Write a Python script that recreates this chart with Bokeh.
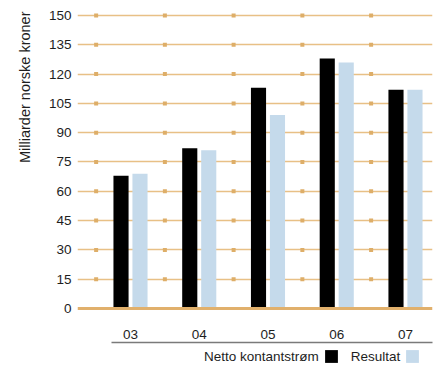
import numpy as np
from bokeh.plotting import figure
from bokeh.layouts import column
from bokeh.models import (Range1d, FixedTicker, Legend, LegendItem,
                          Span, Title)
from bokeh.embed import file_html
from bokeh.resources import INLINE

categories = ["03", "04", "05", "06", "07"]
netto = [68, 82, 113, 128, 112]
resultat = [69, 81, 99, 126, 112]
yticks = [0, 15, 30, 45, 60, 75, 90, 105, 120, 135, 150]
ylabel = "Milliarder norske kroner"
series_names = ["Netto kontantstrøm", "Resultat"]
colors = ["#000000", "#c5daeb"]

FONT = "Liberation Sans"
FS = "13.5px"
TXT = "#1e1e1e"
GRID = "#e8c086"
DOT = "#deae68"

xs = np.arange(len(categories))

p = figure(width=434, height=344, x_range=Range1d(-0.771, 4.393),
           y_range=Range1d(-17.41, 152.05), output_backend="svg",
           toolbar_location=None, min_border_left=77, min_border_right=2,
           min_border_top=11, min_border_bottom=2)
p.outline_line_color = None
p.xgrid.visible = False

# y axis
ya = p.yaxis[0]
ya.ticker = FixedTicker(ticks=yticks)
ya.axis_line_color = None
ya.major_tick_line_color = None
ya.minor_tick_line_color = None
ya.major_tick_out = 0
ya.major_tick_in = 0
ya.major_label_standoff = 6
ya.major_label_text_font = FONT
ya.major_label_text_font_size = FS
ya.major_label_text_color = TXT

p.ygrid.ticker = FixedTicker(ticks=yticks[1:])
p.ygrid.grid_line_color = GRID
p.ygrid.grid_line_width = 1.5

# category axis: line at the bottom, labels above the line
xa = p.xaxis[0]
xa.ticker = FixedTicker(ticks=list(xs))
xa.major_label_overrides = {int(i): c for i, c in zip(xs, categories)}
xa.bounds = (-0.276, 4.393)
xa.axis_line_color = "#7a7a7a"
xa.axis_line_width = 1.5
xa.major_tick_line_color = None
xa.minor_tick_line_color = None
xa.major_tick_out = 0
xa.major_tick_in = 0
xa.major_label_standoff = -13
xa.major_label_text_font = FONT
xa.major_label_text_font_size = FS
xa.major_label_text_color = TXT

# small markers on gridlines at category boundaries
bx, by = [], []
for b in xs:
    for t in yticks[1:]:
        bx.append(b - 0.5)
        by.append(t)
p.scatter(x=bx, y=by, marker="square", size=4, color=DOT, line_color=None)

p.vbar(x=xs - 0.138, top=netto, width=0.22, color=colors[0], line_color=None)
p.vbar(x=xs + 0.138, top=resultat, width=0.22, color=colors[1], line_color=None)

p.add_layout(Span(location=0, dimension="width", line_color="#e1b06c", line_width=3))

title = Title(text=ylabel, align="right", text_font=FONT, text_font_size="14.5px",
              text_font_style="normal", text_color=TXT, standoff=26)
p.add_layout(title, "left")

# legend strip (label followed by its swatch)
q = figure(width=434, height=23, x_range=Range1d(0, 1), y_range=Range1d(0, 1),
           output_backend="svg", toolbar_location=None,
           x_axis_location=None, y_axis_location=None,
           min_border_left=0, min_border_right=0, min_border_top=0, min_border_bottom=0)
q.outline_line_color = None
q.xgrid.visible = False
q.ygrid.visible = False
r_inv = q.vbar(x=[0.5], top=[0], width=0.01, fill_alpha=0, line_alpha=0)
r_black = q.vbar(x=[0.5], top=[0], width=0.01, color=colors[0], line_color=None)
r_blue = q.vbar(x=[0.5], top=[0], width=0.01, color=colors[1], line_color=None)

legend = Legend(items=[
    LegendItem(label=series_names[0], renderers=[r_inv]),
    LegendItem(label=series_names[1], renderers=[r_black]),
    LegendItem(label=" ", renderers=[r_blue]),
], orientation="horizontal", location=(99, 3))
legend.glyph_width = 16
legend.glyph_height = 16
legend.label_height = 16
legend.label_width = 0
legend.label_standoff = 12
legend.spacing = 4
legend.padding = 0
legend.margin = 0
legend.border_line_color = None
legend.background_fill_alpha = 0
legend.label_text_font = FONT
legend.label_text_font_size = FS
legend.label_text_color = TXT
q.add_layout(legend, "center")

layout = column(p, q, spacing=0)
open("out.html", "w").write(file_html(layout, INLINE))
